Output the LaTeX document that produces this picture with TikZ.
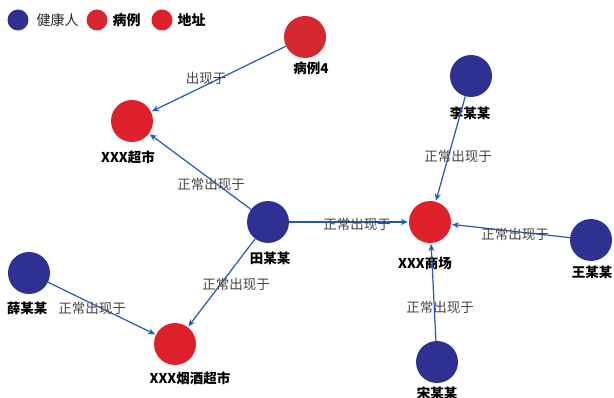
\documentclass[tikz,border=0pt]{standalone}
\usepackage{fontspec}
\setmainfont{Noto Sans CJK SC}
\usetikzlibrary{arrows.meta}
\definecolor{healthy}{HTML}{2E3192}
\definecolor{caseRed}{HTML}{D62830}
\definecolor{addrRed}{HTML}{DD2029}
\definecolor{edgeBlue}{HTML}{2458B2}
\definecolor{elab}{HTML}{444444}
\begin{document}
\begin{tikzpicture}[x=1pt,y=-1pt,
  person/.style={circle,fill=healthy,minimum size=42pt,inner sep=0pt},
  caseN/.style={circle,fill=caseRed,minimum size=42pt,inner sep=0pt},
  addr/.style={circle,fill=addrRed,minimum size=42pt,inner sep=0pt},
  nlab/.style={font=\fontsize{13.5}{13.5}\selectfont\bfseries,text=black,inner sep=1pt},
  elabel/.style={font=\fontsize{13.5}{13.5}\selectfont,text=elab,inner sep=1pt},
  rel/.style={draw=edgeBlue,line width=1.2pt,-{Stealth[length=7pt,width=6pt]},shorten >=1pt},
  legdot/.style={circle,minimum size=21pt,inner sep=0pt}]
\useasboundingbox (0,0) rectangle (614,398);
% legend
\node[legdot,fill=healthy] (lg1) at (18,20) {};
\node[anchor=west,font=\fontsize{14}{14}\selectfont,text=black!85] (lt1) at (33,20) {健康人};
\node[legdot,fill=caseRed] (lg2) at (97,20) {};
\node[anchor=west,font=\fontsize{14}{14}\selectfont\bfseries] (lt2) at (109,20) {病例};
\node[legdot,fill=addrRed] (lg3) at (162,20) {};
\node[anchor=west,font=\fontsize{14}{14}\selectfont\bfseries] (lt3) at (174,20) {地址};
% nodes
\node[caseN] (c4) at (305,37) {};
\node[nlab] (c4l) at (311,68) {病例4};
\node[addr] (cs) at (132,121) {};
\node[nlab] (csl) at (128,157) {XXX超市};
\node[person] (tian) at (268,222) {};
\node[nlab] (tianl) at (270,258) {田某某};
\node[addr] (mall) at (430,222) {};
\node[nlab] (malll) at (425,263) {XXX商场};
\node[person] (li) at (471,76) {};
\node[nlab] (lil) at (470,113) {李某某};
\node[person] (wang) at (591,240) {};
\node[nlab] (wangl) at (592,272) {王某某};
\node[person] (xue) at (29,273) {};
\node[nlab] (xuel) at (27,308) {薛某某};
\node[addr] (yj) at (175,344) {};
\node[nlab] (yjl) at (190,378) {XXX烟酒超市};
\node[person] (song) at (437,362) {};
\node[nlab] (songl) at (437,393) {宋某某};
% edges
\draw[rel] (c4) -- (cs);
\draw[rel] (tian) -- (cs);
\draw[rel] (tian) -- (mall);
\draw[rel] (tian) -- (yj);
\draw[rel] (li) -- (mall);
\draw[rel] (wang) -- (mall);
\draw[rel] (song) -- (mall);
\draw[rel] (xue) -- (yj);
% edge labels
\node[elabel] (e1) at (206,78) {出现于};
\node[elabel] (e2) at (211,184) {正常出现于};
\node[elabel] (e3) at (357,224) {正常出现于};
\node[elabel] (e4) at (236,284) {正常出现于};
\node[elabel] (e5) at (458,156) {正常出现于};
\node[elabel] (e6) at (515,234) {正常出现于};
\node[elabel] (e7) at (440,307) {正常出现于};
\node[elabel] (e8) at (92,308) {正常出现于};
\end{tikzpicture}
\end{document}
